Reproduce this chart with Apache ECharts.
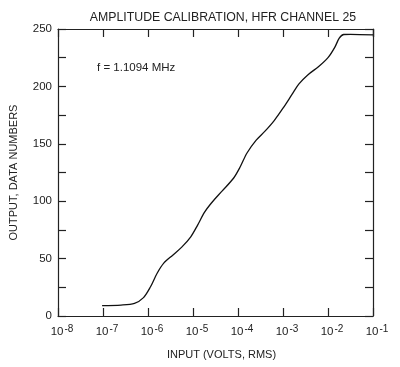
<!DOCTYPE html>
<html>
<head>
<meta charset="utf-8">
<script src="https://cdn.jsdelivr.net/npm/echarts@6/dist/echarts.min.js"></script>
<style>
html,body{margin:0;padding:0;background:#fff;}
#chart{width:400px;height:367px;}
</style>
</head>
<body>
<div id="chart"></div>
<script>
// Input voltage as power-of-ten exponent (volts RMS)
var inputExponents = [-7.02, -6.6, -6.3, -6.1, -5.95, -5.8, -5.65, -5.45, -5.25, -5.05, -4.9, -4.75, -4.6, -4.35, -4.1, -3.95, -3.8, -3.6, -3.4, -3.2, -3.0, -2.8, -2.65, -2.45, -2.2, -2.0, -1.85, -1.75, -1.65, -1.5, -1.0];
// Output, data numbers
var outputValues = [9, 9.5, 11, 16, 25, 37, 46, 53, 60, 69, 79, 90, 98, 109, 120, 130, 142, 153, 161, 170, 181, 193, 202, 210, 217.5, 225, 234, 242, 245.2, 245.3, 244.8];
var xTickExponents = [-8, -7, -6, -5, -4, -3, -2, -1];
var yTickLabels = [0, 50, 100, 150, 200, 250];

var title = 'AMPLITUDE CALIBRATION, HFR CHANNEL 25';
var xName = 'INPUT (VOLTS, RMS)';
var yName = 'OUTPUT, DATA NUMBERS';
var note = 'f = 1.1094 MHz';

var seriesData = inputExponents.map(function (e, i) { return [Math.pow(10, e), outputValues[i]]; });

var font = 'Liberation Sans';
var ink = '#222';

var chart = echarts.init(document.getElementById('chart'));
var xCommon = {
  type: 'log',
  logBase: 10,
  min: Math.pow(10, xTickExponents[0]),
  max: Math.pow(10, xTickExponents[xTickExponents.length - 1]),
  axisLine: { show: true, onZero: false, lineStyle: { color: ink, width: 1.2 } },
  axisTick: { show: true, inside: true, length: 8, lineStyle: { color: ink, width: 1.2 } },
  splitLine: { show: false },
  minorTick: { show: false }
};
chart.setOption({
  backgroundColor: '#fff',
  animation: false,
  title: {
    text: title,
    left: 218,
    textAlign: 'center',
    top: 7,
    textStyle: { fontFamily: font, fontSize: 12.3, fontWeight: 'normal', color: ink }
  },
  grid: { left: 57, right: 27, top: 29, bottom: 51 },
  xAxis: [
    Object.assign({}, xCommon, {
      position: 'bottom',
      name: xName,
      nameLocation: 'middle',
      nameGap: 33,
      nameTextStyle: { fontFamily: font, fontSize: 11, color: ink, padding: [0, 0, 0, 12] },
      axisLabel: {
        margin: 8,
        padding: [0, 0, 0, 8],
        formatter: function (v) {
          var e = Math.round(Math.log10(v));
          return '{b|10}{s|' + e + '}';
        },
        rich: {
          b: { fontFamily: font, fontSize: 11.5, color: ink, verticalAlign: 'bottom', lineHeight: 14 },
          s: { fontFamily: font, fontSize: 10, color: ink, verticalAlign: 'top', padding: [0, 0, 6, 1], lineHeight: 14 }
        }
      }
    }),
    Object.assign({}, xCommon, {
      position: 'top',
      axisLabel: { show: false }
    })
  ],
  yAxis: [
    {
      type: 'value', min: 0, max: 250, interval: 25, position: 'left',
      name: yName, nameLocation: 'middle', nameGap: 39,
      nameTextStyle: { fontFamily: font, fontSize: 11, color: ink },
      axisLine: { show: true, lineStyle: { color: ink, width: 1.2 } },
      axisTick: { show: true, inside: true, length: 8, lineStyle: { color: ink, width: 1.2 } },
      splitLine: { show: false },
      axisLabel: {
        margin: 6,
        fontFamily: font, fontSize: 11.5, color: ink,
        formatter: function (v) { return yTickLabels.indexOf(v) >= 0 ? String(v) : ''; }
      }
    },
    {
      type: 'value', min: 0, max: 250, interval: 25, position: 'right',
      axisLine: { show: true, lineStyle: { color: ink, width: 1.2 } },
      axisTick: { show: true, inside: true, length: 8, lineStyle: { color: ink, width: 1.2 } },
      splitLine: { show: false },
      axisLabel: { show: false }
    }
  ],
  graphic: [{
    type: 'text', left: 97, top: 62,
    style: { text: note, fontFamily: font, fontSize: 11.5, fill: ink }
  }],
  series: [{
    type: 'line',
    data: seriesData,
    xAxisIndex: 0,
    yAxisIndex: 0,
    smooth: 0.3,
    showSymbol: false,
    lineStyle: { color: '#111', width: 1.3 }
  }]
});
</script>
</body>
</html>
